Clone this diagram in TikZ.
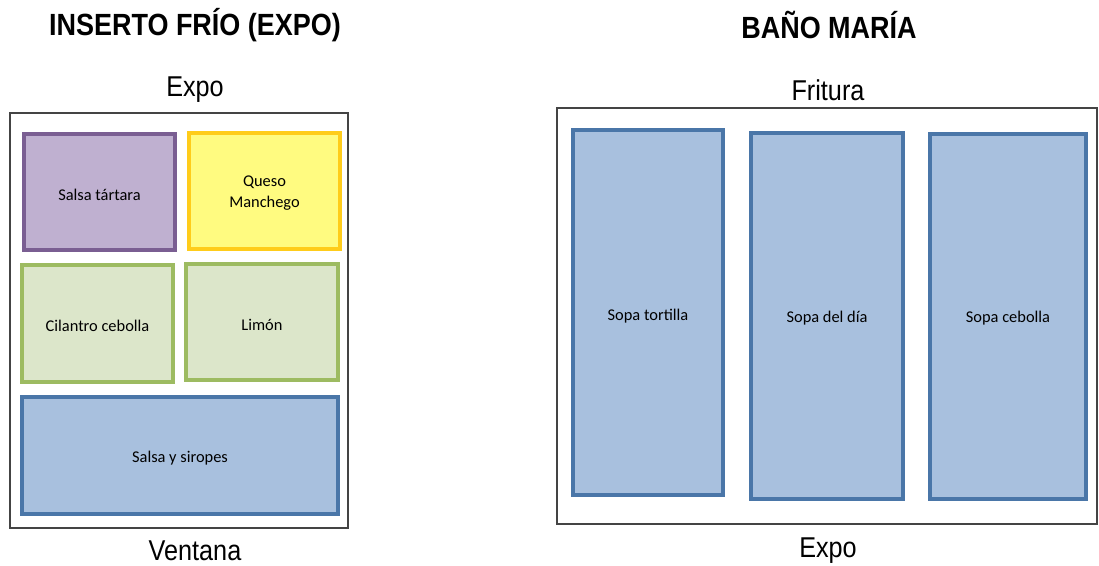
\documentclass[tikz,border=0pt]{standalone}
\usepackage{fontspec}
\setmainfont{Liberation Sans}
\newfontfamily\calib{Carlito}
\newfontfamily\titlefont[FakeStretch=0.88]{Liberation Sans}
\definecolor{purpF}{HTML}{BFB0D0}
\definecolor{purpD}{HTML}{7A5E92}
\definecolor{yelF}{HTML}{FFFB80}
\definecolor{yelD}{HTML}{FFCC1A}
\definecolor{grnF}{HTML}{DCE6CA}
\definecolor{grnD}{HTML}{9DBB61}
\definecolor{bluF}{HTML}{A8C0DE}
\definecolor{bluD}{HTML}{4A76A8}
\definecolor{outD}{HTML}{444444}
\tikzset{
  bin/.style={line width=3pt, draw=#1D, fill=#1F},
  frame/.style={line width=1.6pt, draw=outD, fill=white},
  title/.style={font=\titlefont\fontsize{23}{26}\selectfont\bfseries},
  side/.style={font=\titlefont\fontsize{21.5}{24}\selectfont},
  lbl/.style={font=\calib\fontsize{12.3}{15}\selectfont, align=center, inner sep=0pt}
}
\begin{document}
\begin{tikzpicture}[x=0.75pt,y=-0.75pt]
\useasboundingbox (0,0) rectangle (1099,565);
% titles
\node[title] (t1) at (195,25) {INSERTO FRÍO (EXPO)};
\node[title] (t2) at (829,25) {BAÑO MARÍA};
% left container
\node[side] (lexpo) at (195,90) {Expo};
\node[side] (lvent) at (195,551) {Ventana};
\draw[frame] (10,113) rectangle (348,528);
\draw[bin=purp] (24,134) rectangle (175,250);
\node[lbl] (st) at (99.5,195) {Salsa tártara};
\draw[bin=yel] (189,133) rectangle (340,249);
\node[lbl] (qm) at (264.5,193) {Queso\\[1pt]Manchego};
\draw[bin=grn] (22,265) rectangle (173,382);
\node[lbl] (cc) at (97.5,326) {Cilantro cebolla};
\draw[bin=grn] (186,264) rectangle (338,380);
\node[lbl] (li) at (262,325) {Limón};
\draw[bin=blu] (22,397) rectangle (338,514);
\node[lbl] (ss) at (180,458) {Salsa y siropes};
% right container
\node[side] (rfri) at (828,90) {Fritura};
\node[side] (rexpo) at (828,551) {Expo};
\draw[frame] (557,108) rectangle (1097,524);
\draw[bin=blu] (573,130) rectangle (723,495);
\node[lbl] (sp1) at (648,316) {Sopa tortilla};
\draw[bin=blu] (751,133) rectangle (903,499);
\node[lbl] (sp2) at (827,318) {Sopa del día};
\draw[bin=blu] (930,134) rectangle (1086,499);
\node[lbl] (sp3) at (1008,318) {Sopa cebolla};
\end{tikzpicture}
\end{document}
